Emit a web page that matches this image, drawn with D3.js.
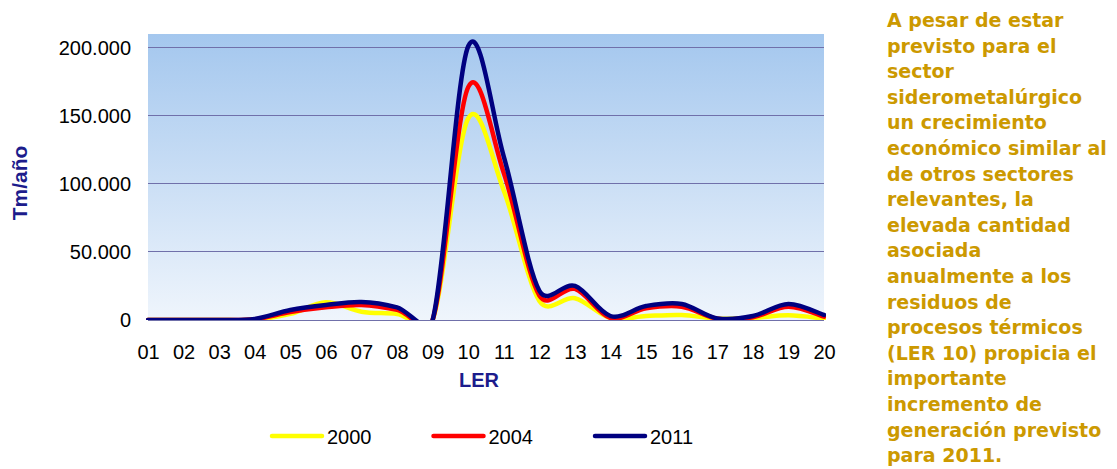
<!DOCTYPE html>
<html>
<head>
<meta charset="utf-8">
<script src="https://cdn.jsdelivr.net/npm/d3@7"></script>
<style>
  html, body { margin: 0; padding: 0; background: #ffffff; }
  svg { display: block; }
</style>
</head>
<body>
<svg id="chart" width="1117" height="469"></svg>
<script>
// LER codes on the x axis
const categories = ["01","02","03","04","05","06","07","08","09","10",
                    "11","12","13","14","15","16","17","18","19","20"];

// Tonnes per year by LER code
const values2000 = [0, 0, 0, 300, 4500, 13000, 6100, 4400, 0, 148000,
                    95000, 14000, 16000, 1500, 2900, 3700, 1000, 1500, 3400, 1000];
const values2004 = [0, 0, 0, 500, 5800, 9300, 11000, 7400, 0, 171000,
                    108000, 18000, 22800, 1500, 8600, 9800, 1000, 2000, 9800, 2500];
const values2011 = [0, 0, 0, 800, 7300, 11000, 13200, 9300, 0, 201000,
                    120000, 21500, 25000, 2900, 10300, 11800, 1200, 2900, 11800, 3700];

const seriesNames = ["2000", "2004", "2011"];
const yTicks = [0, 50000, 100000, 150000, 200000];
const yMax = 210000;

const noteLines = [
  "A pesar de estar",
  "previsto para el",
  "sector",
  "siderometalúrgico",
  "un crecimiento",
  "económico similar al",
  "de otros sectores",
  "relevantes, la",
  "elevada cantidad",
  "asociada",
  "anualmente a los",
  "residuos de",
  "procesos térmicos",
  "(LER 10) propicia el",
  "importante",
  "incremento de",
  "generación previsto",
  "para 2011."
];

const series = [
  { name: seriesNames[0], values: values2000, color: "#ffff00" },
  { name: seriesNames[1], values: values2004, color: "#ff0000" },
  { name: seriesNames[2], values: values2011, color: "#000080" }
];

// Spreadsheet-style smoothing: cubic Bezier segments with 1/6 tangents,
// shortened so a control point never reaches past half its segment.
function SmoothCurve(context) { this._context = context; }
SmoothCurve.prototype = {
  areaStart() { this._line = 0; },
  areaEnd() { this._line = NaN; },
  lineStart() { this._pts = []; },
  point(px, py) { this._pts.push([+px, +py]); },
  lineEnd() {
    const p = this._pts, n = p.length, c = this._context;
    if (!n) return;
    const dist = (a, b) => Math.hypot(b[0] - a[0], b[1] - a[1]);
    c.moveTo(p[0][0], p[0][1]);
    for (let i = 0; i < n - 1; i++) {
      const p0 = p[Math.max(i - 1, 0)], p1 = p[i], p2 = p[i + 1], p3 = p[Math.min(i + 2, n - 1)];
      const d12 = dist(p1, p2), d02 = dist(p0, p2), d13 = dist(p1, p3);
      let f1 = 1 / 6, f2 = 1 / 6;
      if (d02 > 0 && d02 / 6 > d12 / 2) f1 = d12 / (2 * d02);
      if (d13 > 0 && d13 / 6 > d12 / 2) f2 = d12 / (2 * d13);
      c.bezierCurveTo(
        p1[0] + (p2[0] - p0[0]) * f1, p1[1] + (p2[1] - p0[1]) * f1,
        p2[0] - (p3[0] - p1[0]) * f2, p2[1] - (p3[1] - p1[1]) * f2,
        p2[0], p2[1]);
    }
  }
};
const curveSmooth = context => new SmoothCurve(context);

const svg = d3.select("#chart");
const plot = { left: 148, top: 34, width: 676, height: 286 };

const x = d3.scalePoint().domain(categories).range([0, plot.width]);
const y = d3.scaleLinear().domain([0, yMax]).range([plot.height, 0]);

const esLocale = d3.formatLocale({ decimal: ",", thousands: ".", grouping: [3], currency: ["", ""] });
const fmt = esLocale.format(",d");

const sansFont = "'Liberation Sans', Arial, sans-serif";

// Plot-area background gradient
const defs = svg.append("defs");
const grad = defs.append("linearGradient")
  .attr("id", "plotBg").attr("x1", 0).attr("y1", 0).attr("x2", 0).attr("y2", 1);
grad.append("stop").attr("offset", "0%").attr("stop-color", "#a4c7ee");
grad.append("stop").attr("offset", "100%").attr("stop-color", "#eff5fc");

defs.append("clipPath").attr("id", "plotClip")
  .append("rect").attr("x", -2).attr("y", -2)
  .attr("width", plot.width + 4).attr("height", plot.height + 2);

const g = svg.append("g").attr("transform", `translate(${plot.left},${plot.top})`);

g.append("rect")
  .attr("width", plot.width).attr("height", plot.height)
  .attr("fill", "url(#plotBg)");

// Horizontal gridlines
g.append("g")
  .selectAll("line")
  .data(yTicks)
  .join("line")
  .attr("x1", 0).attr("x2", plot.width)
  .attr("y1", d => y(d)).attr("y2", d => y(d))
  .attr("stroke", "#7070aa").attr("stroke-width", 1)
  .attr("shape-rendering", "crispEdges");

// Y axis labels
const yAxis = g.append("g")
  .call(d3.axisLeft(y).tickValues(yTicks).tickFormat(fmt).tickSize(0).tickPadding(17));
yAxis.select(".domain").remove();
yAxis.selectAll("text")
  .style("font-family", sansFont)
  .attr("font-size", 20).attr("fill", "#000");

// X axis labels
const xAxis = g.append("g")
  .attr("transform", `translate(0,${plot.height})`)
  .call(d3.axisBottom(x).tickSize(0).tickPadding(25));
xAxis.select(".domain").remove();
xAxis.selectAll("text")
  .style("font-family", sansFont)
  .attr("font-size", 20).attr("fill", "#000");

// Smoothed series lines
const line = d3.line()
  .x((d, i) => x(categories[i]))
  .y(d => y(d))
  .curve(curveSmooth);

g.append("g").attr("clip-path", "url(#plotClip)")
  .selectAll("path")
  .data(series)
  .join("path")
  .attr("d", d => line(d.values))
  .attr("fill", "none")
  .attr("stroke", d => d.color)
  .attr("stroke-width", 4.5)
  .attr("stroke-linejoin", "round")
  .attr("stroke-linecap", "round");

// Axis titles
svg.append("text")
  .attr("transform", "translate(27,183) rotate(-90)")
  .attr("text-anchor", "middle")
  .style("font-family", sansFont)
  .attr("font-weight", "bold").attr("font-size", 21)
  .attr("fill", "#1c1c8c")
  .text("Tm/año");

svg.append("text")
  .attr("x", 479).attr("y", 387)
  .attr("text-anchor", "middle")
  .style("font-family", sansFont)
  .attr("font-weight", "bold").attr("font-size", 20)
  .attr("fill", "#1c1c8c")
  .text("LER");

// Legend
const legend = svg.append("g").attr("transform", "translate(272,436)");
const item = legend.selectAll("g")
  .data(series)
  .join("g")
  .attr("transform", (d, i) => `translate(${i * 161.5},0)`);
item.append("line")
  .attr("x1", 0).attr("x2", 50).attr("y1", 0).attr("y2", 0)
  .attr("stroke", d => d.color).attr("stroke-width", 4.5)
  .attr("stroke-linecap", "round");
item.append("text")
  .attr("x", 55).attr("y", 7.5)
  .style("font-family", sansFont)
  .attr("font-size", 20).attr("fill", "#000")
  .text(d => d.name);

// Side note
const note = svg.append("text")
  .style("font-family", "'DejaVu Sans', Verdana, sans-serif")
  .attr("font-weight", "bold").attr("font-size", 18)
  .attr("fill", "#cc9900");
note.selectAll("tspan")
  .data(noteLines)
  .join("tspan")
  .attr("x", 887)
  .attr("y", (d, i) => 27 + i * 25.6)
  .text(d => d);

// Fit the widest line of the note to its column
let widest = 0;
note.selectAll("tspan").each(function () {
  widest = Math.max(widest, this.getComputedTextLength());
});
if (widest > 0) note.attr("font-size", 18 * 220 / widest);
</script>
</body>
</html>
